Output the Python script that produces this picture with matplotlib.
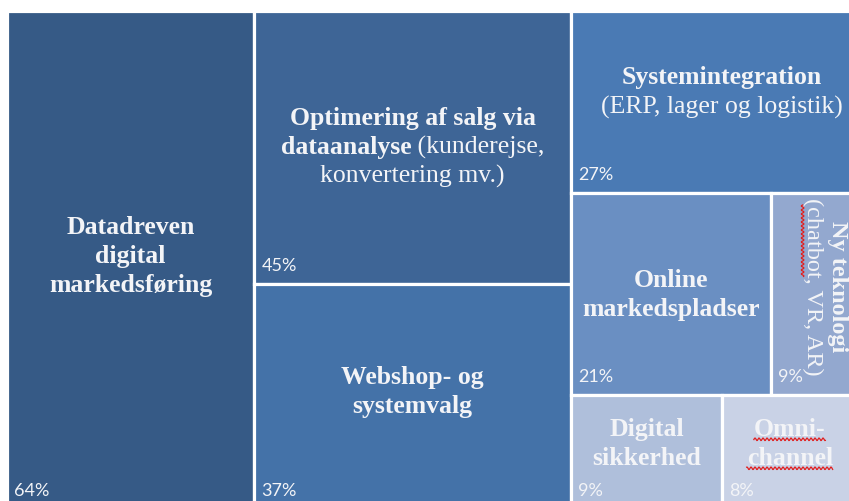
import numpy as np
import matplotlib
matplotlib.use("Agg")
import matplotlib.pyplot as plt
from matplotlib.patches import Rectangle

# treemap data
labels = [
    [[("Datadreven", "bold")], [("digital", "bold")], [("markedsføring", "bold")]],
    [[("Optimering af salg via", "bold")],
     [("dataanalyse", "bold"), (" (kunderejse,", "normal")],
     [("konvertering mv.)", "normal")]],
    [[("Webshop- og", "bold")], [("systemvalg", "bold")]],
    [[("Systemintegration", "bold")], [("(ERP, lager og logistik)", "normal")]],
    [[("Online", "bold")], [("markedspladser", "bold")]],
    [[("Ny teknologi", "bold")], [("(chatbot, VR, AR)", "normal")]],
    [[("Digital", "bold")], [("sikkerhed", "bold")]],
    [[("Omni-", "bold")], [("channel", "bold")]],
]
values = [64, 45, 37, 27, 21, 9, 9, 8]
pct_labels = ["64%", "45%", "37%", "27%", "21%", "9%", "9%", "8%"]
colors = ["#365a86", "#3e6596", "#4472a8", "#4a7ab4",
          "#6a8fc2", "#93a8cf", "#afbfdb", "#c9d2e6"]

# how Excel nested the boxes: columns -> stacks -> rows
tree = [0, [1, 2], [3, [4, 5], [6, 7]]]

# layout (pixels of the 849x502 picture)
W, H = 849, 502
X0, X1, Y0, Y1 = 7, 857, 12, 510
LINE = 29
ROTATED = {5}
# nudges of the label block from the box centre (dx, dy)
NUDGE = [(0, -5), (0, -2), (0, -6), (8, -11), (0, 0), (11, -8), (0, -9), (0, -9)]
SERIF = "Liberation Serif"
SANS = "Lato"
TXT = "#f3f4f7"


def weight(node):
    if isinstance(node, int):
        return values[node]
    return sum(weight(c) for c in node)


rects = {}


def layout(node, x, y, w, h, horiz):
    if isinstance(node, int):
        rects[node] = (x, y, w, h)
        return
    total = weight(node)
    pos = 0.0
    for c in node:
        frac = weight(c) / total
        if horiz:
            layout(c, x + pos * w, y, frac * w, h, not horiz)
        else:
            layout(c, x, y + pos * h, w, frac * h, not horiz)
        pos += frac


layout(tree, X0, Y0, X1 - X0, Y1 - Y0, True)

fig = plt.figure(figsize=(W / 100, H / 100), dpi=100)
ax = fig.add_axes([0, 0, 1, 1])
ax.set_xlim(0, W)
ax.set_ylim(H, 0)
ax.axis("off")
fig.canvas.draw()
renderer = fig.canvas.get_renderer()


def text_width(s, wt, size=18.5):
    t = ax.text(0, 0, s, fontsize=size, family=SERIF, weight=wt)
    bb = t.get_window_extent(renderer)
    t.remove()
    return bb.width


# red spell-check underline
def squiggle(xa, xb, y, vertical=False):
    n = np.arange(xa, xb, 0.5)
    off = 1.3 * np.sin(n * 2 * np.pi / 4.0)
    if vertical:
        ax.plot(y + off, n, color="#e02020", lw=0.9, zorder=5)
    else:
        ax.plot(n, y + off, color="#e02020", lw=0.9, zorder=5)


for i in range(len(values)):
    x, y, w, h = rects[i]
    ax.add_patch(Rectangle((x, y), w, h, facecolor=colors[i],
                           edgecolor="white", linewidth=2.3))
    cx = x + w / 2 + NUDGE[i][0]
    cy = y + h / 2 + NUDGE[i][1]
    lines = labels[i]
    n = len(lines)
    if i in ROTATED:
        for k, line in enumerate(lines):
            s, wt = line[0]
            lx = cx + ((n - 1) / 2 - k) * (LINE - 4)
            ax.text(lx, cy, s, rotation=-90, ha="center", va="center",
                    fontsize=17.5, family=SERIF, weight=wt, color=TXT)
            if "chatbot" in s:
                full = text_width(s, wt, 17.5)
                start = text_width("(", wt, 17.5)
                part = text_width("(chatbot", wt, 17.5)
                top = cy - full / 2
                squiggle(top + start, top + part, lx - 10, vertical=True)
    else:
        for k, line in enumerate(lines):
            base = cy + (k - (n - 1) / 2) * LINE + 7
            widths = [text_width(s, wt) for s, wt in line]
            left = cx - sum(widths) / 2
            for (s, wt), sw in zip(line, widths):
                ax.text(left, base, s, ha="left", va="baseline",
                        fontsize=18.5, family=SERIF, weight=wt, color=TXT)
                if i == 7:
                    squiggle(left, left + sw, base + 4)
                left += sw
    ax.text(x + 7, min(y + h, H + 8) - 19, pct_labels[i], ha="left", va="center",
            fontsize=13, family=SANS, color=TXT)

fig.savefig("out.png", dpi=100)
